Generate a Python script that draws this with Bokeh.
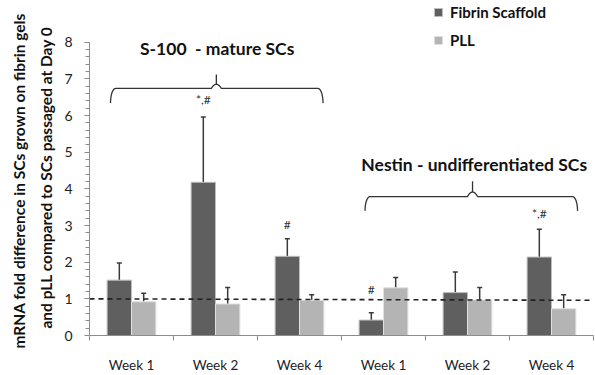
import numpy as np
from bokeh.plotting import figure
from bokeh.models import (Range1d, FixedTicker, ColumnDataSource, Whisker, TeeHead,
                          Legend, LegendItem, Title)
from bokeh.core.properties import value
from bokeh.embed import file_html
from bokeh.resources import INLINE

# ---------------- data ----------------
categories = ["Week 1", "Week 2", "Week 4", "Week 1", "Week 2", "Week 4"]
fibrin = [1.51, 4.18, 2.16, 0.42, 1.17, 2.14]
fibrin_err = [0.47, 1.78, 0.48, 0.20, 0.56, 0.76]
pll = [0.92, 0.86, 0.96, 1.30, 0.97, 0.73]
pll_err = [0.23, 0.45, 0.15, 0.28, 0.34, 0.38]
sig_labels = ["", "*,#", "#", "#", "", "*,#"]
sig_y = [0, 6.45, 3.04, 1.25, 0, 3.34]
ref_level = [1.0, 0.96]
y_ticks = [0, 1, 2, 3, 4, 5, 6, 7, 8]
group_titles = ["S-100 \u00a0- mature SCs", "Nestin - undifferentiated SCs"]
series_names = ["Fibrin Scaffold", "PLL"]
y_title_lines = ["mRNA fold difference in SCs grown on fibrin gels",
                 "and pLL compared  to SCs passaged at Day 0"]

FONT = "Lato"
DARK = "#5f5f5f"
LIGHT = "#b4b4b4"

p = figure(width=595, height=375, output_backend="svg", toolbar_location=None,
           x_range=Range1d(0, 6), y_range=Range1d(0, 9.14),
           min_border_left=89, min_border_right=2, min_border_top=0,
           min_border_bottom=35)
p.outline_line_color = None
p.grid.visible = False
p.background_fill_color = "white"
p.border_fill_color = "white"

n = len(categories)
idx = np.arange(n)
bw = 0.29
src = ColumnDataSource(dict(
    xf=idx + 0.5 - bw / 2, xp=idx + 0.5 + bw / 2,
    f=fibrin, p=pll,
    fu=np.array(fibrin) + np.array(fibrin_err),
    pu=np.array(pll) + np.array(pll_err),
))

rf = p.vbar(x="xf", top="f", width=bw, source=src, fill_color=DARK,
            line_color="#bdbdbd", line_width=1)
rp = p.vbar(x="xp", top="p", width=bw, source=src, fill_color=LIGHT,
            line_color="#e0e0e0", line_width=1)

for xcol, lo, hi in (("xf", "f", "fu"), ("xp", "p", "pu")):
    w = Whisker(base=xcol, lower=lo, upper=hi, source=src, dimension="height",
                line_color="#3a3a3a", line_width=1.5,
                upper_head=TeeHead(size=5, line_color="#3a3a3a", line_width=1.5),
                lower_head=None)
    p.add_layout(w)

# reference line at fold change = 1
p.line([0, n], ref_level, line_color="#222222", line_width=1.6, line_dash="5 4")

# significance marks
sig_src = ColumnDataSource(dict(x=idx + 0.5 - bw / 2, y=sig_y, t=sig_labels))
p.text(x="x", y="y", text="t", source=sig_src, text_font=value(FONT),
       text_font_size="12px", text_align="center", text_baseline="middle",
       text_color="#333333")


def brace(x0, x1, xc, yb, yt, yp, rx=0.06):
    t = np.linspace(0, np.pi / 2, 12)
    lx = x0 + rx * (1 - np.cos(t))
    ly = yb + (yt - yb) * np.sin(t)
    h = (yp - yt) * 0.3
    cx_l = xc - rx * np.cos(t)
    cy_l = yt + h * np.sin(t) ** 2
    cx_r = xc + rx * np.cos(t[::-1])
    cy_r = cy_l[::-1]
    rx_ = x1 - rx * (1 - np.cos(t[::-1]))
    ry_ = ly[::-1]
    xs = np.concatenate([lx, cx_l, [xc, xc, xc], cx_r, rx_])
    ys = np.concatenate([ly, cy_l, [yt + h, yp, yt + h], cy_r, ry_])
    return xs, ys


for b in ((0.25, 2.78, 1.51, 6.34, 6.74, 7.12), (3.28, 5.81, 4.56, 3.40, 3.79, 4.21)):
    bx, by = brace(*b)
    p.line(bx, by, line_color="#333333", line_width=1.3)

# group titles
p.text(x=[1.52, 4.58], y=[7.84, 4.66], text=group_titles,
       text_font=value(FONT), text_font_style="bold", text_font_size="17.5px",
       text_align="center", text_baseline="middle", text_color="#111111")

# y-axis title: two stacked side titles (closest to the axis first)
for line, off, so in ((y_title_lines[1], 7, 14), (y_title_lines[0], -13, 0)):
    p.add_layout(Title(text=line, align="left", offset=off, standoff=so,
                       text_font=FONT, text_font_style="bold",
                       text_font_size="15.5px", text_color="#111111"), "left")

# axes
p.xaxis.ticker = FixedTicker(ticks=list(idx + 0.5), minor_ticks=list(range(n + 1)))
p.xaxis.major_label_overrides = {float(i + 0.5): c for i, c in enumerate(categories)}
p.xaxis.major_tick_out = 0
p.xaxis.major_tick_in = 0
p.xaxis.minor_tick_out = 5
p.xaxis.minor_tick_in = 0
p.xaxis.major_label_standoff = 16
p.xaxis.axis_line_color = "#8c8c8c"
p.xaxis.minor_tick_line_color = "#8c8c8c"
p.xaxis.major_label_text_font = FONT
p.xaxis.major_label_text_font_size = "13.5px"
p.xaxis.major_label_text_color = "#222222"

p.yaxis.ticker = FixedTicker(ticks=y_ticks, minor_ticks=list(np.round(np.arange(0, 8.01, 0.2), 2)))
p.yaxis.bounds = (0, 8)
p.yaxis.major_tick_out = 5
p.yaxis.major_tick_in = 0
p.yaxis.minor_tick_out = 4
p.yaxis.minor_tick_in = 0
p.yaxis.major_label_standoff = 12
p.yaxis.axis_line_color = "#8c8c8c"
p.yaxis.major_tick_line_color = "#8c8c8c"
p.yaxis.minor_tick_line_color = "#8c8c8c"
p.yaxis.major_label_text_font = FONT
p.yaxis.major_label_text_font_size = "14px"
p.yaxis.major_label_text_color = "#222222"

legend = Legend(items=[LegendItem(label=series_names[0], renderers=[rf]),
                       LegendItem(label=series_names[1], renderers=[rp])],
                location=(344, 286), orientation="vertical",
                glyph_width=10, glyph_height=10, label_height=18, spacing=10,
                padding=0, margin=0, label_standoff=7,
                border_line_color=None, background_fill_alpha=0,
                label_text_font=FONT, label_text_font_style="bold",
                label_text_font_size="15px", label_text_color="#111111")
p.add_layout(legend)

open("out.html", "w").write(file_html(p, INLINE))
